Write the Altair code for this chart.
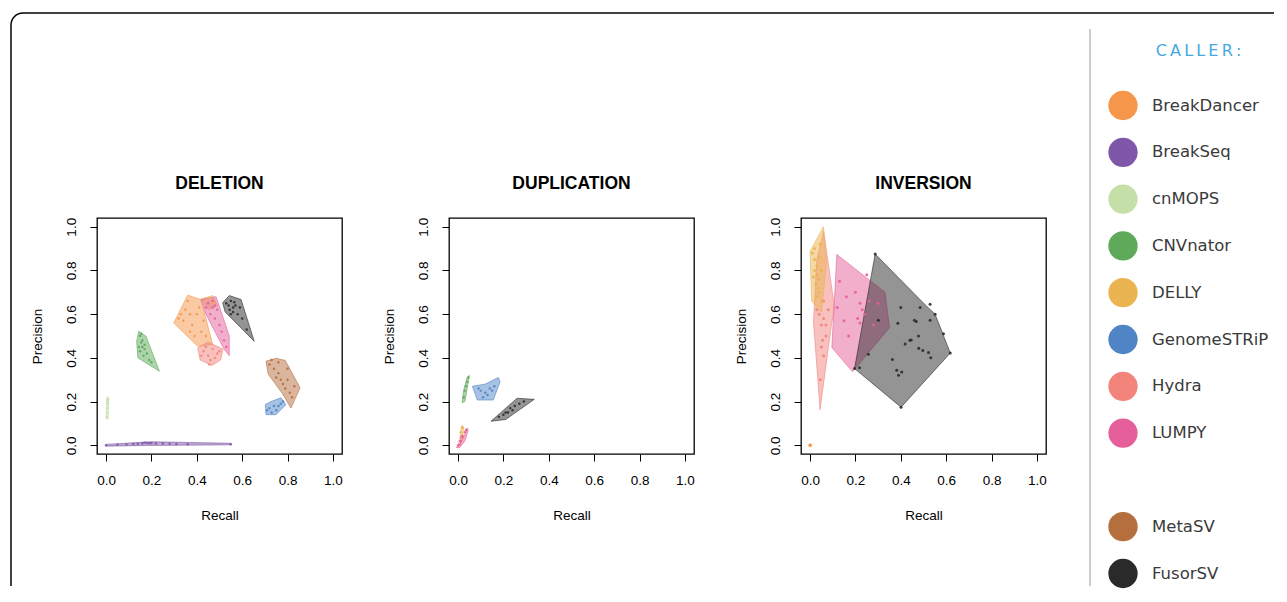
import altair as alt
import pandas as pd

# ---------------- data ----------------
CALLERS = ["BreakDancer", "BreakSeq", "cnMOPS", "CNVnator", "DELLY",
           "GenomeSTRiP", "Hydra", "LUMPY", " ", "MetaSV", "FusorSV"]
COLORS = ["#f5964a", "#7e57a8", "#c4e0a8", "#5ea95a", "#eab450",
          "#4f85c5", "#f2847b", "#e5609a", "rgba(0,0,0,0)", "#b56e3e", "#2a2a2a"]
TICKS = [0.0, 0.2, 0.4, 0.6, 0.8, 1.0]
LEGEND_TITLE = "C\u2009A\u2009L\u2009L\u2009E\u2009R\u2009:"

# convex hulls (x list, y list) per caller, draw order = insertion order
DEL_HULLS = {
    "BreakSeq": ([0.0, 0.17, 0.55, 0.55, 0.20, 0.0], [-0.004, -0.001, 0.002, 0.009, 0.016, 0.004]),
    "cnMOPS": ([0.0, 0.009, 0.012, 0.003], [0.12, 0.12, 0.22, 0.22]),
    "CNVnator": ([0.144, 0.176, 0.235, 0.14, 0.135], [0.522, 0.499, 0.339, 0.40, 0.476]),
    "BreakDancer": ([0.298, 0.36, 0.418, 0.47, 0.404], [0.56, 0.687, 0.667, 0.461, 0.453]),
    "DELLY": ([0.42, 0.47, 0.49, 0.45], [0.67, 0.685, 0.64, 0.62]),
    "LUMPY": ([0.418, 0.485, 0.543, 0.543, 0.52, 0.44], [0.667, 0.68, 0.50, 0.41, 0.44, 0.60]),
    "Hydra": ([0.404, 0.45, 0.515, 0.505, 0.466, 0.415], [0.445, 0.472, 0.44, 0.39, 0.365, 0.39]),
    "FusorSV": ([0.514, 0.543, 0.595, 0.653, 0.587, 0.525], [0.652, 0.685, 0.667, 0.476, 0.545, 0.61]),
    "GenomeSTRiP": ([0.702, 0.705, 0.749, 0.793, 0.771, 0.727], [0.186, 0.14, 0.14, 0.186, 0.217, 0.2]),
    "MetaSV": ([0.705, 0.75, 0.79, 0.855, 0.815, 0.775, 0.715], [0.385, 0.398, 0.388, 0.263, 0.17, 0.24, 0.325]),
}
DEL_POINTS = {
    "BreakSeq": ([0.0, 0.05, 0.09, 0.12, 0.14, 0.16, 0.17, 0.18, 0.19, 0.2, 0.22, 0.25, 0.28, 0.31, 0.36, 0.55],
                 [0.0, 0.003, 0.004, 0.006, 0.007, 0.009, 0.012, 0.011, 0.009, 0.01, 0.008, 0.008, 0.007, 0.006, 0.005, 0.005]),
    "cnMOPS": ([0.004, 0.006, 0.005, 0.007, 0.006, 0.008], [0.13, 0.15, 0.17, 0.19, 0.2, 0.21]),
    "CNVnator": ([0.15, 0.155, 0.16, 0.15, 0.17, 0.165, 0.18, 0.16, 0.145, 0.19, 0.2, 0.17, 0.155],
                 [0.5, 0.47, 0.45, 0.43, 0.44, 0.41, 0.42, 0.48, 0.45, 0.39, 0.38, 0.46, 0.51]),
    "BreakDancer": ([0.32, 0.35, 0.37, 0.38, 0.36, 0.40, 0.42, 0.39, 0.34, 0.41, 0.44, 0.37, 0.33, 0.43],
                    [0.58, 0.62, 0.6, 0.55, 0.66, 0.6, 0.52, 0.5, 0.57, 0.63, 0.5, 0.52, 0.6, 0.57]),
    "DELLY": ([0.44, 0.46, 0.47], [0.66, 0.67, 0.65]),
    "LUMPY": ([0.45, 0.47, 0.46, 0.48, 0.50, 0.49, 0.51, 0.52, 0.53, 0.47, 0.44, 0.48],
              [0.65, 0.63, 0.60, 0.58, 0.55, 0.62, 0.52, 0.48, 0.45, 0.66, 0.63, 0.64]),
    "Hydra": ([0.43, 0.45, 0.47, 0.49, 0.46, 0.44, 0.48, 0.42, 0.50, 0.455],
              [0.43, 0.41, 0.44, 0.42, 0.39, 0.45, 0.40, 0.41, 0.43, 0.37]),
    "FusorSV": ([0.53, 0.55, 0.56, 0.545, 0.57, 0.58, 0.56, 0.60, 0.54, 0.59, 0.62, 0.55, 0.565],
                [0.65, 0.66, 0.63, 0.62, 0.64, 0.60, 0.61, 0.58, 0.64, 0.63, 0.53, 0.60, 0.655]),
    "GenomeSTRiP": ([0.72, 0.74, 0.76, 0.75, 0.77, 0.73, 0.78, 0.71], [0.17, 0.18, 0.18, 0.16, 0.19, 0.15, 0.2, 0.16]),
    "MetaSV": ([0.72, 0.74, 0.76, 0.77, 0.78, 0.80, 0.79, 0.81, 0.83, 0.76, 0.82, 0.75, 0.80, 0.73],
               [0.37, 0.35, 0.33, 0.30, 0.28, 0.30, 0.26, 0.24, 0.27, 0.38, 0.22, 0.31, 0.35, 0.39]),
}

DUP_HULLS = {
    "CNVnator": ([0.018, 0.03, 0.05, 0.04, 0.024], [0.195, 0.20, 0.32, 0.31, 0.25]),
    "GenomeSTRiP": ([0.063, 0.085, 0.155, 0.185, 0.178, 0.12], [0.27, 0.207, 0.207, 0.29, 0.31, 0.28]),
    "FusorSV": ([0.145, 0.26, 0.336, 0.21], [0.11, 0.215, 0.21, 0.118]),
    "DELLY": ([0.008, 0.015, 0.025, 0.02], [0.03, 0.09, 0.085, 0.04]),
    "Hydra": ([0.0, 0.015, 0.025, 0.01], [0.0, 0.05, 0.045, 0.0]),
    "LUMPY": ([-0.008, 0.005, 0.03, 0.04, 0.045, 0.03, 0.005], [-0.01, 0.0, 0.05, 0.08, 0.07, 0.02, -0.012]),
}
DUP_POINTS = {
    "CNVnator": ([0.025, 0.03, 0.035, 0.04, 0.045], [0.22, 0.25, 0.27, 0.29, 0.31]),
    "GenomeSTRiP": ([0.10, 0.12, 0.14, 0.13, 0.15, 0.16, 0.11, 0.09], [0.25, 0.24, 0.26, 0.23, 0.25, 0.27, 0.22, 0.26]),
    "FusorSV": ([0.18, 0.20, 0.22, 0.24, 0.25, 0.27, 0.23, 0.21, 0.29], [0.13, 0.14, 0.15, 0.16, 0.18, 0.19, 0.17, 0.15, 0.20]),
    "DELLY": ([0.012, 0.018], [0.06, 0.08]),
    "Hydra": ([0.008, 0.015], [0.02, 0.035]),
    "LUMPY": ([0.0, 0.01, 0.02, 0.03, 0.035], [0.0, 0.02, 0.04, 0.06, 0.07]),
}

INV_HULLS = {
    "BreakDancer": ([-0.005, 0.006, 0.006, -0.005], [-0.005, -0.005, 0.006, 0.006]),
    "Hydra": ([0.06, 0.107, 0.09, 0.044, 0.015, 0.03], [0.98, 0.636, 0.52, 0.163, 0.567, 0.85]),
    "DELLY": ([0.059, 0.0, 0.007, 0.05, 0.072], [1.0, 0.887, 0.66, 0.61, 0.83]),
    "LUMPY": ([0.118, 0.33, 0.35, 0.187, 0.096], [0.873, 0.70, 0.538, 0.337, 0.447]),
    "FusorSV": ([0.287, 0.507, 0.551, 0.618, 0.401, 0.196], [0.875, 0.643, 0.60, 0.422, 0.174, 0.351]),
}
INV_POINTS = {
    "BreakDancer": ([0.0], [0.0]),
    "Hydra": ([0.04, 0.05, 0.06, 0.07, 0.05, 0.06, 0.045, 0.08, 0.03, 0.06, 0.07, 0.055],
              [0.60, 0.55, 0.58, 0.50, 0.45, 0.41, 0.30, 0.62, 0.62, 0.66, 0.55, 0.48]),
    "DELLY": ([0.01, 0.02, 0.03, 0.02, 0.03, 0.04, 0.025, 0.035, 0.04, 0.03, 0.05, 0.045, 0.02, 0.04, 0.05, 0.015],
              [0.88, 0.85, 0.82, 0.80, 0.78, 0.76, 0.74, 0.72, 0.70, 0.68, 0.66, 0.92, 0.90, 0.86, 0.80, 0.77]),
    "LUMPY": ([0.13, 0.15, 0.17, 0.20, 0.22, 0.23, 0.24, 0.22, 0.25, 0.12, 0.16, 0.26, 0.28, 0.30, 0.21],
              [0.75, 0.57, 0.50, 0.70, 0.65, 0.62, 0.60, 0.56, 0.78, 0.63, 0.68, 0.66, 0.55, 0.65, 0.58]),
    "FusorSV": ([0.287, 0.40, 0.387, 0.301, 0.363, 0.382, 0.39, 0.404, 0.419, 0.446, 0.46, 0.468, 0.478, 0.479,
                 0.497, 0.522, 0.532, 0.529, 0.485, 0.257, 0.218, 0.196, 0.618, 0.588, 0.529, 0.401, 0.551, 0.44],
                [0.875, 0.63, 0.558, 0.572, 0.393, 0.343, 0.32, 0.335, 0.463, 0.482, 0.572, 0.566, 0.50, 0.444,
                 0.434, 0.424, 0.40, 0.572, 0.63, 0.416, 0.355, 0.351, 0.422, 0.51, 0.645, 0.174, 0.60, 0.48]),
}


def hull_frame(hulls):
    rows = []
    for rank, (caller, (xs, ys)) in enumerate(hulls.items()):
        n = len(xs)
        for i in range(n + 1):  # repeat first vertex to close the outline
            rows.append({"caller": caller, "rank": rank, "i": i, "x": xs[i % n], "y": ys[i % n]})
    return pd.DataFrame(rows)


def point_frame(points):
    rows = []
    for caller, (xs, ys) in points.items():
        for x, y in zip(xs, ys):
            rows.append({"caller": caller, "x": x, "y": y})
    return pd.DataFrame(rows)


# ---------------- chart ----------------
color_scale = alt.Scale(domain=CALLERS, range=COLORS)
# hull scale: same colours without the blank legend spacer
hull_domain = [c for c in CALLERS if c.strip()]
hull_range = [col for c, col in zip(CALLERS, COLORS) if c.strip()]
hull_scale = alt.Scale(domain=hull_domain, range=hull_range)

xsc = alt.Scale(domain=[-0.04, 1.04], nice=False, zero=False)
ysc = alt.Scale(domain=[-0.04, 1.04], nice=False, zero=False)

x_axis = alt.Axis(values=TICKS, format=".1f", title="Recall", labelPadding=12, titlePadding=22,
                  tickSize=7, labelFlush=False, labelOverlap=False)
y_axis = alt.Axis(values=TICKS, format=".1f", title="Precision", labelAngle=270, labelAlign="center",
                  labelBaseline="bottom", labelPadding=12, titlePadding=20, tickSize=7,
                  labelFlush=False, labelOverlap=False)

legend = alt.Legend(
    title=None, orient="none", legendX=1011, legendY=-127.5, padding=0,
    labelFont="DejaVu Sans", labelFontSize=16.5, labelColor="#3a3a3a", labelOffset=14, labelLimit=300,
    symbolType="circle", symbolSize=860, symbolOpacity=1, symbolStrokeWidth=0,
    rowPadding=16.8,
)


def panel(title, hulls, points, psize):
    hulls_chart = alt.Chart(hull_frame(hulls)).mark_line(
        fillOpacity=0.5, strokeOpacity=0.6, strokeWidth=1
    ).encode(
        x=alt.X("x:Q", scale=xsc, axis=x_axis),
        y=alt.Y("y:Q", scale=ysc, axis=y_axis),
        fill=alt.Fill("caller:N", scale=hull_scale, legend=None),
        stroke=alt.Stroke("caller:N", scale=hull_scale, legend=None),
        detail="caller:N",
        order="i:Q",
    )
    pts_chart = alt.Chart(point_frame(points)).mark_circle(size=psize, opacity=0.9).encode(
        x=alt.X("x:Q", scale=xsc, axis=x_axis),
        y=alt.Y("y:Q", scale=ysc, axis=y_axis),
        color=alt.Color("caller:N", scale=color_scale, legend=legend),
    )
    return alt.layer(hulls_chart, pts_chart).properties(
        width=245, height=236,
        title=alt.TitleParams(title, font="Liberation Sans", fontSize=17.5, fontWeight="bold",
                              color="black", anchor="middle", frame="group", offset=25),
    )


# decorative frame (page border, separator line, legend heading) drawn in an empty cell
one = alt.Data(values=[{"k": 0}])
top_rule = alt.Chart(one).mark_rule(color="black", strokeWidth=1.5).encode(
    x=alt.value(-1130), x2=alt.value(121), y=alt.value(-205))
left_rule = alt.Chart(one).mark_rule(color="black", strokeWidth=1.5).encode(
    x=alt.value(-1142), y=alt.value(-193), y2=alt.value(368))
corner = alt.Chart(one).mark_arc(radius=12.75, radius2=11.25, theta=4.71239, theta2=6.28319,
                                 color="black").encode(x=alt.value(-1130), y=alt.value(-193))
sep = alt.Chart(one).mark_rule(color="#9a9a9a", strokeWidth=1).encode(
    x=alt.value(-63), y=alt.value(-189), y2=alt.value(368))
heading = alt.Chart(one).mark_text(
    text=LEGEND_TITLE, font="DejaVu Sans", fontSize=16, color="#46a8de",
    align="center", baseline="middle",
).encode(x=alt.value(45.5), y=alt.value(-167))
decor = alt.layer(top_rule, left_rule, corner, sep, heading).properties(
    width=1, height=236, view=alt.ViewBackground(stroke="transparent"))

chart = alt.hconcat(
    panel("DELETION", DEL_HULLS, DEL_POINTS, 6),
    panel("DUPLICATION", DUP_HULLS, DUP_POINTS, 6),
    panel("INVERSION", INV_HULLS, INV_POINTS, 9),
    decor,
    spacing=107, bounds="flush",
).properties(
    padding={"left": 1, "top": 3, "right": 0, "bottom": 0},
    background="white",
).configure_view(
    stroke="black", strokeWidth=1.3,
).configure_axis(
    domain=False, grid=False, tickColor="black", tickWidth=1,
    labelColor="black", labelFont="Liberation Sans", labelFontSize=13.5,
    titleColor="black", titleFont="Liberation Sans", titleFontSize=13.5, titleFontWeight="normal",
)

chart.save("out.html", embed_options={"renderer": "svg", "actions": False})
